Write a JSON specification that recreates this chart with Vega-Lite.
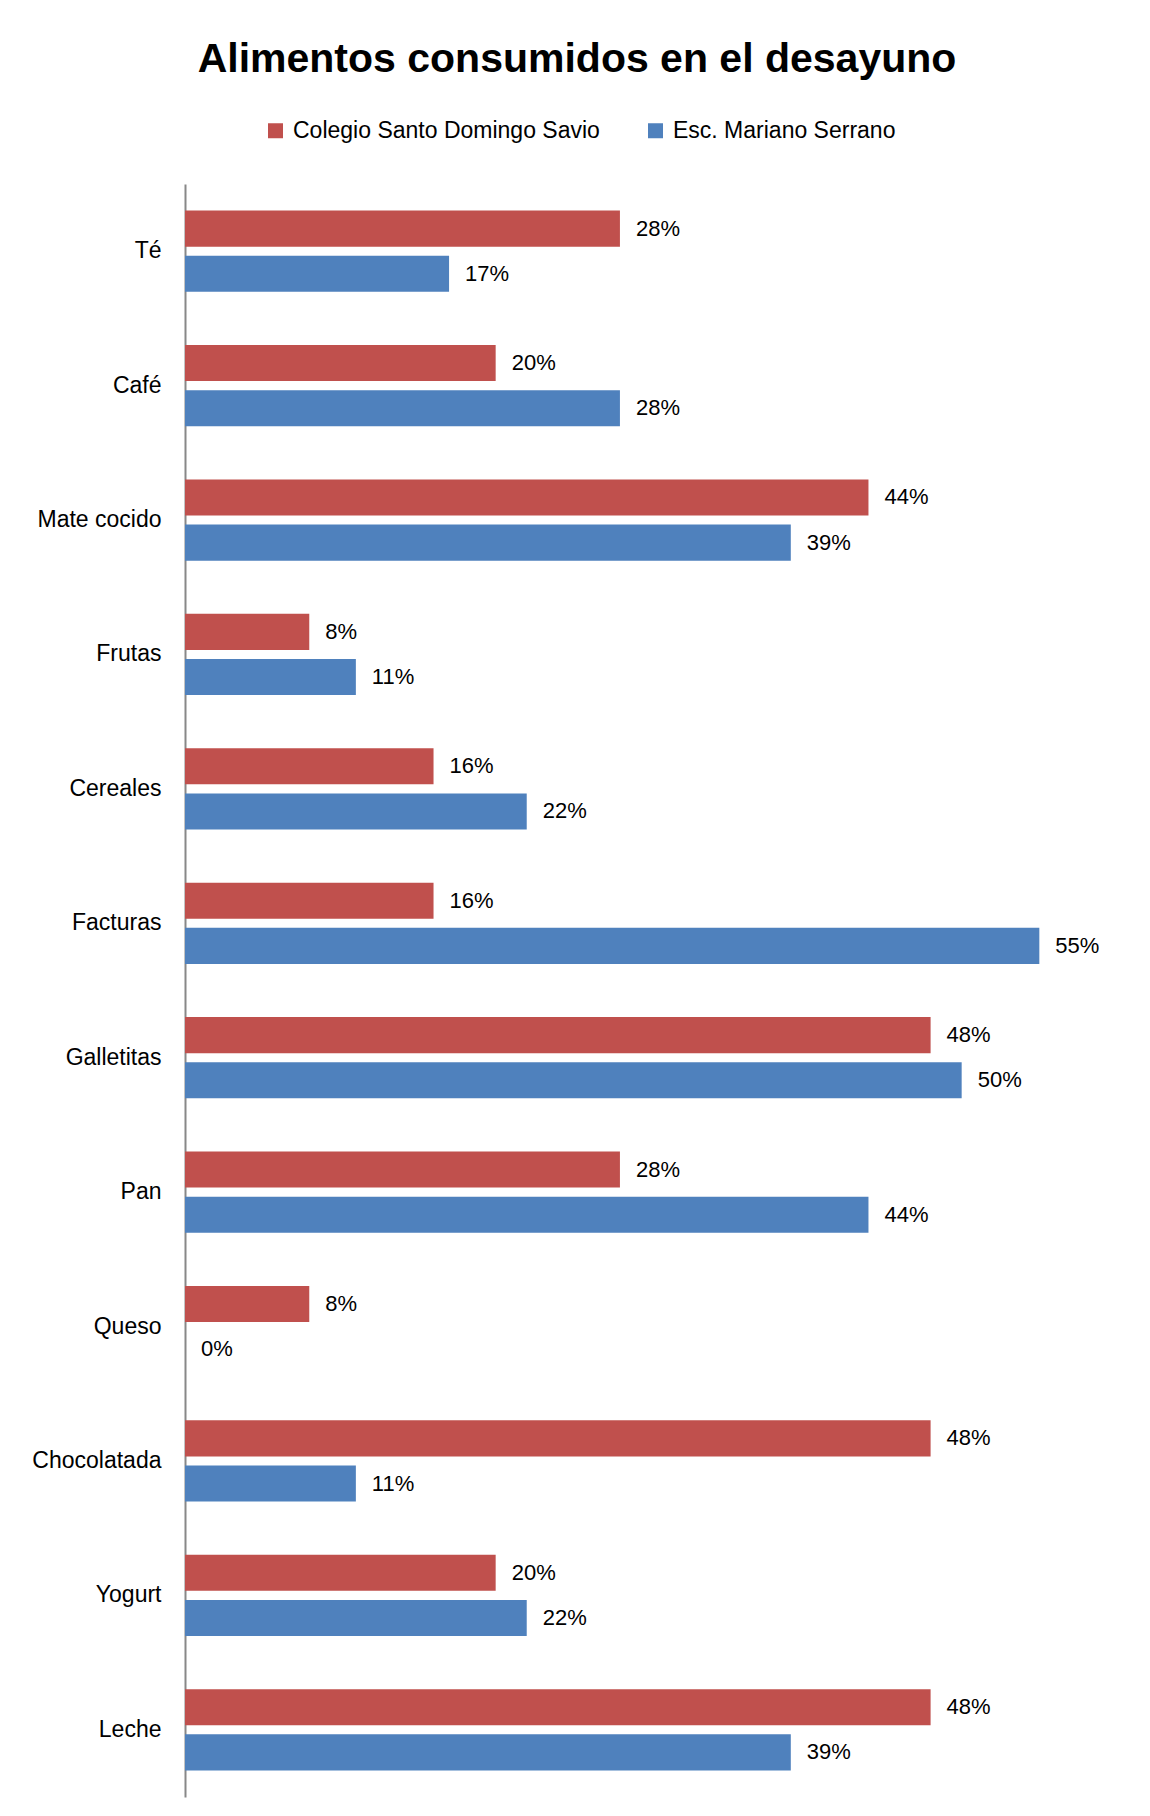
{
  "$schema": "https://vega.github.io/schema/vega-lite/v6.json",
  "autosize": {"type": "none"},
  "padding": {"left": 185, "top": 184, "right": 33, "bottom": 19},
  "width": 932,
  "height": 1613,
  "background": "white",
  "title": {
    "text": "Alimentos consumidos en el desayuno",
    "font": "Liberation Sans",
    "fontSize": 41,
    "fontWeight": "bold",
    "color": "black",
    "anchor": "middle",
    "frame": "group",
    "dx": -74,
    "baseline": "alphabetic",
    "offset": 6
  },
  "data": {
    "values": [
      {"alimento": "Té", "escuela": "Colegio Santo Domingo Savio", "valor": 0.28},
      {"alimento": "Té", "escuela": "Esc. Mariano Serrano", "valor": 0.17},
      {"alimento": "Café", "escuela": "Colegio Santo Domingo Savio", "valor": 0.20},
      {"alimento": "Café", "escuela": "Esc. Mariano Serrano", "valor": 0.28},
      {"alimento": "Mate cocido", "escuela": "Colegio Santo Domingo Savio", "valor": 0.44},
      {"alimento": "Mate cocido", "escuela": "Esc. Mariano Serrano", "valor": 0.39},
      {"alimento": "Frutas", "escuela": "Colegio Santo Domingo Savio", "valor": 0.08},
      {"alimento": "Frutas", "escuela": "Esc. Mariano Serrano", "valor": 0.11},
      {"alimento": "Cereales", "escuela": "Colegio Santo Domingo Savio", "valor": 0.16},
      {"alimento": "Cereales", "escuela": "Esc. Mariano Serrano", "valor": 0.22},
      {"alimento": "Facturas", "escuela": "Colegio Santo Domingo Savio", "valor": 0.16},
      {"alimento": "Facturas", "escuela": "Esc. Mariano Serrano", "valor": 0.55},
      {"alimento": "Galletitas", "escuela": "Colegio Santo Domingo Savio", "valor": 0.48},
      {"alimento": "Galletitas", "escuela": "Esc. Mariano Serrano", "valor": 0.50},
      {"alimento": "Pan", "escuela": "Colegio Santo Domingo Savio", "valor": 0.28},
      {"alimento": "Pan", "escuela": "Esc. Mariano Serrano", "valor": 0.44},
      {"alimento": "Queso", "escuela": "Colegio Santo Domingo Savio", "valor": 0.08},
      {"alimento": "Queso", "escuela": "Esc. Mariano Serrano", "valor": 0.0},
      {"alimento": "Chocolatada", "escuela": "Colegio Santo Domingo Savio", "valor": 0.48},
      {"alimento": "Chocolatada", "escuela": "Esc. Mariano Serrano", "valor": 0.11},
      {"alimento": "Yogurt", "escuela": "Colegio Santo Domingo Savio", "valor": 0.20},
      {"alimento": "Yogurt", "escuela": "Esc. Mariano Serrano", "valor": 0.22},
      {"alimento": "Leche", "escuela": "Colegio Santo Domingo Savio", "valor": 0.48},
      {"alimento": "Leche", "escuela": "Esc. Mariano Serrano", "valor": 0.39}
    ]
  },
  "encoding": {
    "y": {
      "field": "alimento",
      "type": "nominal",
      "sort": null,
      "scale": {"paddingInner": 0.395, "paddingOuter": 0.1975},
      "axis": {
        "title": null,
        "ticks": false,
        "domainColor": "#888888",
        "domainWidth": 2,
        "labelFont": "Liberation Sans",
        "labelFontSize": 23,
        "labelColor": "black",
        "labelPadding": 24
      }
    },
    "yOffset": {
      "field": "escuela",
      "type": "nominal",
      "sort": ["Colegio Santo Domingo Savio", "Esc. Mariano Serrano"],
      "scale": {"paddingInner": 0.2, "paddingOuter": 0}
    },
    "x": {
      "field": "valor",
      "type": "quantitative",
      "scale": {"domain": [0, 0.6], "nice": false},
      "axis": null
    }
  },
  "layer": [
    {
      "mark": {"type": "bar", "cornerRadius": 0},
      "encoding": {
        "color": {
          "field": "escuela",
          "type": "nominal",
          "scale": {
            "domain": ["Colegio Santo Domingo Savio", "Esc. Mariano Serrano"],
            "range": ["#C0504D", "#4F81BD"]
          },
          "legend": {
            "title": null,
            "orient": "none",
            "direction": "horizontal",
            "columns": 2,
            "legendX": 79,
            "legendY": -65,
            "symbolType": "square",
            "symbolSize": 225,
            "symbolStrokeWidth": 0,
            "symbolOpacity": 1,
            "labelFont": "Liberation Sans",
            "labelFontSize": 23,
            "labelColor": "black",
            "labelOffset": 6,
            "labelLimit": 500,
            "columnPadding": 44
          }
        }
      }
    },
    {
      "mark": {
        "type": "text",
        "align": "left",
        "baseline": "middle",
        "dx": 16,
        "font": "Liberation Sans",
        "fontSize": 22,
        "color": "black"
      },
      "encoding": {
        "text": {"field": "valor", "type": "quantitative", "format": ".0%"}
      }
    }
  ],
  "config": {
    "view": {"stroke": null}
  }
}
